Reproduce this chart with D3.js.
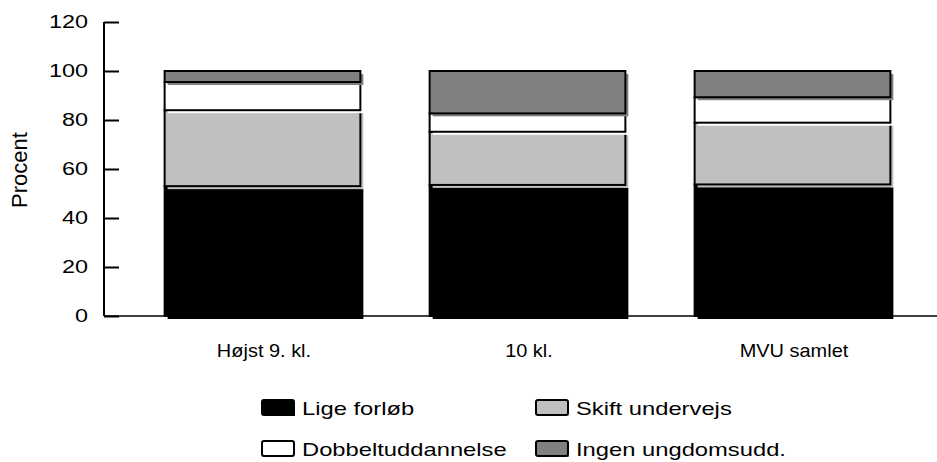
<!DOCTYPE html>
<html>
<head>
<meta charset="utf-8">
<script src="https://cdn.jsdelivr.net/npm/d3@7/dist/d3.min.js"></script>
<style>
  html, body { margin: 0; padding: 0; background: #fff; }
  svg { display: block; font-family: "Liberation Sans", Arial, sans-serif; }
</style>
</head>
<body>
<svg id="chart" width="937" height="462"></svg>
<script>
// ---- data ----
const categories = ["Højst 9. kl.", "10 kl.", "MVU samlet"];
const seriesNames = ["Lige forløb", "Skift undervejs", "Dobbeltuddannelse", "Ingen ungdomsudd."];
const ligeForlob = [53, 53.5, 53.7];
const skiftUndervejs = [31, 21.7, 25.2];
const dobbeltuddannelse = [11.5, 7.5, 10.4];
const ingenUngdomsudd = [4.5, 17.3, 10.7];
const yTicks = [0, 20, 40, 60, 80, 100, 120];
const seriesColors = ["#000000", "#c0c0c0", "#ffffff", "#808080"];

const seriesValues = [ligeForlob, skiftUndervejs, dobbeltuddannelse, ingenUngdomsudd];
const rows = categories.map((c, i) => {
  const r = { cat: c };
  seriesNames.forEach((s, j) => r[s] = seriesValues[j][i]);
  return r;
});
const stacked = d3.stack().keys(seriesNames)(rows);

const svg = d3.select("#chart");

const y = d3.scaleLinear().domain([0, 120]).range([316, 22]);
const x = d3.scaleBand().domain(categories).range([131.5, 926.5])
  .paddingInner(0.25).paddingOuter(0.125);

function stretch(sel, factor) {
  sel.each(function () {
    const n = this.getComputedTextLength();
    d3.select(this).attr("textLength", n * factor).attr("lengthAdjust", "spacingAndGlyphs");
  });
}

// x axis line (drawn under bars)
svg.append("line")
  .attr("x1", 104).attr("x2", 937)
  .attr("y1", y(0)).attr("y2", y(0))
  .attr("stroke", "#000").attr("stroke-width", 1.5);

// bars
const shadow = 3;
const gSeries = svg.append("g").selectAll("g").data(stacked).join("g");
gSeries.each(function (layer, j) {
  const g = d3.select(this);
  layer.forEach(d => {
    const x0 = x(d.data.cat);
    const w = x.bandwidth() - shadow;
    const y1 = y(d[1]);
    const h = y(d[0]) - y(d[1]);
    g.append("rect")
      .attr("x", x0 + shadow).attr("y", y1 + shadow)
      .attr("width", w).attr("height", h)
      .attr("fill", seriesColors[j]);
    g.append("rect")
      .attr("x", x0).attr("y", y1)
      .attr("width", w).attr("height", h)
      .attr("fill", seriesColors[j])
      .attr("stroke", "#000").attr("stroke-width", 2);
  });
});

// y axis
const yAxis = d3.axisLeft(y).tickValues(yTicks).tickSize(-15).tickPadding(16).tickFormat(d3.format("d"));
const gy = svg.append("g").attr("transform", "translate(104,0)").call(yAxis);
gy.select(".domain").attr("stroke", "#000").attr("stroke-width", 2).attr("d", `M0,${y(120)}V${y(0)}`);
gy.selectAll(".tick line").attr("stroke", "#000").attr("stroke-width", 2);
gy.selectAll(".tick text").attr("font-size", 18).attr("fill", "#000")
  .attr("font-family", "Liberation Sans, Arial, sans-serif")
  .call(stretch, 1.3);

// category labels
svg.append("g").selectAll("text").data(categories).join("text")
  .attr("x", d => x(d) + x.bandwidth() / 2)
  .attr("y", 357)
  .attr("text-anchor", "middle")
  .attr("font-size", 19)
  .text(d => d)
  .call(stretch, 1.05);

// y title
svg.append("text")
  .attr("transform", "translate(27,170) rotate(-90)")
  .attr("text-anchor", "middle")
  .attr("font-size", 22)
  .text("Procent");

// legend
const legCols = [262, 536];
const legRows = [400, 441];
const leg = svg.append("g").selectAll("g").data(seriesNames).join("g")
  .attr("transform", (d, i) => `translate(${legCols[i % 2]},${legRows[Math.floor(i / 2)]})`);
leg.append("rect")
  .attr("x", 2).attr("y", 2).attr("width", 31).attr("height", 14)
  .attr("fill", (d, i) => seriesColors[i]);
leg.append("rect")
  .attr("x", 0).attr("y", 0).attr("width", 32).attr("height", 15).attr("rx", 2)
  .attr("fill", (d, i) => seriesColors[i])
  .attr("stroke", "#000").attr("stroke-width", 2);
leg.append("text")
  .attr("x", 40).attr("y", 15)
  .attr("font-size", 19)
  .text(d => d)
  .call(stretch, 1.25);
</script>
</body>
</html>
